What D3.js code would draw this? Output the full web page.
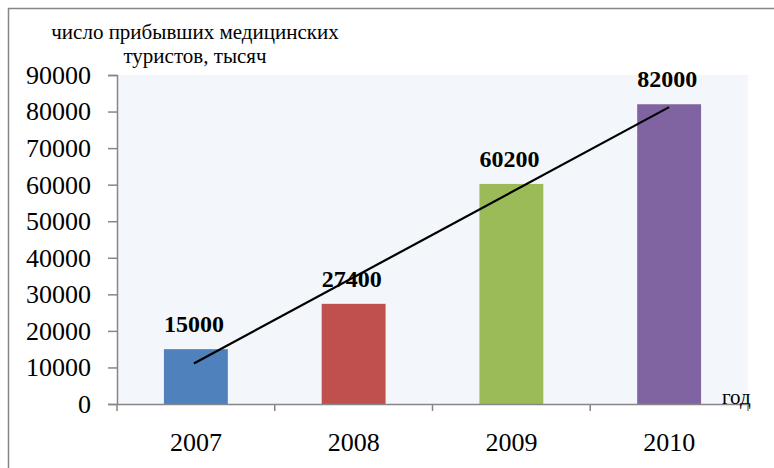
<!DOCTYPE html>
<html><head><meta charset="utf-8">
<script src="https://cdn.jsdelivr.net/npm/d3@7"></script>
<style>
html,body{margin:0;padding:0;background:#fff;}
svg{display:block;}
svg text{font-family:"Liberation Serif","Times New Roman",serif !important;}
</style></head>
<body>
<svg id="chart" width="774" height="468"></svg>
<script>
const categories = ["2007", "2008", "2009", "2010"];
const values = [15000, 27400, 60200, 82000];
const colors = ["#4F81BD", "#C0504D", "#9BBB59", "#8064A2"];
const yTicks = [0, 10000, 20000, 30000, 40000, 50000, 60000, 70000, 80000, 90000];
const titleLines = ["число прибывших медицинских", "туристов, тысяч"];
const xTitle = "год";

const svg = d3.select("#chart");
const m = {left: 117, right: 748, top: 75, bottom: 404};
const serif = '"Liberation Serif","Times New Roman",serif';

// outer frame
svg.append("rect").attr("x", 8.5).attr("y", 8.5).attr("width", 780).attr("height", 480)
  .attr("fill", "none").attr("stroke", "#868686").attr("stroke-width", 1.5);

const x = d3.scaleBand().domain(categories).range([m.left, m.right]).padding(0);
const y = d3.scaleLinear().domain([0, 90000]).range([m.bottom, m.top]);

// plot background
svg.append("rect").attr("x", m.left).attr("y", m.top)
  .attr("width", m.right - m.left).attr("height", m.bottom - m.top)
  .attr("fill", "#F3F6FB");

const barW = x.bandwidth() * 0.405;
svg.selectAll("rect.bar").data(values).join("rect").attr("class", "bar")
  .attr("x", (d, i) => x(categories[i]) + x.bandwidth() / 2 - barW / 2)
  .attr("y", d => y(d)).attr("width", barW).attr("height", d => y(0) - y(d))
  .attr("fill", (d, i) => colors[i]);

// y axis (lines from the axis, labels drawn explicitly in serif)
const yAxis = svg.append("g").attr("transform", `translate(${m.left},0)`)
  .call(d3.axisLeft(y).tickValues(yTicks).tickSize(9).tickFormat(""));
yAxis.select(".domain").attr("stroke", "#868686").attr("stroke-width", 1.5);
yAxis.selectAll(".tick line").attr("stroke", "#868686").attr("stroke-width", 1.5);
svg.append("g").selectAll("text").data(yTicks).join("text")
  .attr("x", m.left - 26).attr("y", d => y(d)).attr("dy", "0.34em")
  .attr("text-anchor", "end").attr("font-family", serif).attr("font-size", 26)
  .attr("fill", "#000").text(d3.format("d"));

// x axis
const xAxis = svg.append("g").attr("transform", `translate(0,${m.bottom})`)
  .call(d3.axisBottom(x).tickSize(0).tickFormat("").tickSizeOuter(0));
xAxis.select(".domain").attr("stroke", "#868686").attr("stroke-width", 1.5);
svg.append("g").selectAll("text").data(categories).join("text")
  .attr("x", d => x(d) + x.bandwidth() / 2).attr("y", 451)
  .attr("text-anchor", "middle").attr("font-family", serif).attr("font-size", 26)
  .attr("fill", "#000").text(d => d);
// category boundary tick marks
const bounds = categories.map(c => x(c)).concat([m.right]);
xAxis.selectAll("line.bt").data(bounds).join("line").attr("class", "bt")
  .attr("x1", d => d).attr("x2", d => d).attr("y1", 0).attr("y2", 7)
  .attr("stroke", "#868686").attr("stroke-width", 1.5);

// linear trend line (least squares over the bar values)
const n = values.length;
const xm = d3.mean(values, (d, i) => i), ym = d3.mean(values);
const slope = d3.sum(values, (d, i) => (i - xm) * (d - ym)) / d3.sum(values, (d, i) => (i - xm) ** 2);
const icpt = ym - slope * xm;
const cx = i => x(categories[i]) + x.bandwidth() / 2;
svg.append("line")
  .attr("x1", cx(0) - 2).attr("y1", y(icpt))
  .attr("x2", cx(n - 1)).attr("y2", y(icpt + slope * (n - 1)))
  .attr("stroke", "#000").attr("stroke-width", 2.2);

// data labels
svg.selectAll("text.lbl").data(values).join("text").attr("class", "lbl")
  .attr("x", (d, i) => cx(i) - 2).attr("y", d => y(d) - 17)
  .attr("text-anchor", "middle").attr("font-size", 24).attr("font-weight", "bold")
  .text(d => d);

// titles
svg.selectAll("text.ttl").data(titleLines).join("text").attr("class", "ttl")
  .attr("x", 195).attr("y", (d, i) => 39 + i * 24)
  .attr("text-anchor", "middle").attr("font-size", 21).text(d => d);

svg.append("text").attr("x", 722).attr("y", 404).attr("font-size", 21).text(xTitle);
</script>
</body></html>
